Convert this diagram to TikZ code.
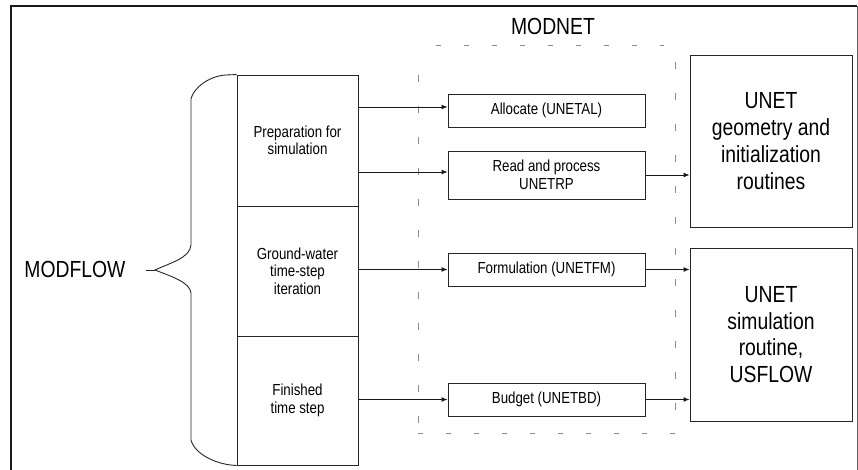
\documentclass[tikz,border=0pt]{standalone}
\usepackage{fontspec}
\setmainfont{Liberation Sans}[FakeStretch=0.83]
\usetikzlibrary{arrows.meta}
\tikzset{
  box/.style={draw=black!85, line width=0.9pt, inner sep=0pt, align=center},
  small/.style={font=\fontsize{16}{17.5}\selectfont},
  big/.style={font=\fontsize{23.3}{26.8}\selectfont},
  arr/.style={-{Latex[length=6pt,width=5pt]}, line width=0.9pt, draw=black!90},
  dotln/.style={draw=black!45, line width=0.7pt, dash pattern=on 7pt off 24pt},
  dotlh/.style={draw=black!45, line width=0.7pt, dash pattern=on 5pt off 23pt}
}
\begin{document}
\begin{tikzpicture}[x=1pt,y=-1pt]
\useasboundingbox (0,0) rectangle (858,470);
% frame
\draw[line width=2pt, black!90] (11,470) -- (11,6) -- (857,6);
\draw[line width=0.8pt, black!60] (857,6) -- (857,470);

% MODNET dotted region
\node[big] (modnet) at (553,26) {MODNET};
\draw[dotlh] (436,45) -- (664,45);
\draw[dotlh] (418,433) -- (676,433);
\draw[dotln] (418,75) -- (418,433);
\draw[dotln] (675,62) -- (675,433);

% MODFLOW column
\node[box, small, minimum width=121pt, minimum height=131pt] (b1) at (297.5,140.5) {Preparation for\\simulation};
\node[box, small, minimum width=121pt, minimum height=130pt] (b2) at (297.5,271) {Ground-water\\time-step\\iteration};
\node[box, small, minimum width=121pt, minimum height=129pt] (b3) at (297.5,400.5) {Finished\\time step};

% brace
\coordinate (tip) at (155,270);
\draw[line width=0.9pt, black!85] (b1.north west) -- (226,75) .. controls (208,76) and (193,89) .. (191,99) -- (191,245)
  .. controls (190,258) and (170,263) .. (tip) .. controls (170,276) and (190,282) .. (191,293) -- (191,440)
  .. controls (195,455) and (218,465) .. (b3.south west);
\node[big, anchor=east] (modflow) at (129,269) {MODFLOW};
\coordinate (mfend) at (146,270);
\draw[line width=0.9pt, black!85] (mfend) -- (tip);

% MODNET boxes
\node[box, small, minimum width=197pt, minimum height=33pt] (alloc) at (546.5,110.5) {Allocate (UNETAL)};
\node[box, small, minimum width=197pt, minimum height=48pt] (read) at (546.5,175) {Read and process\\UNETRP};
\node[box, small, minimum width=197pt, minimum height=33pt] (form) at (546.5,269.5) {Formulation (UNETFM)};
\node[box, small, minimum width=197pt, minimum height=33pt] (budg) at (546.5,399.5) {Budget (UNETBD)};

% UNET boxes
\node[box, big, minimum width=162pt, minimum height=172pt] (geom) at (771,141) {UNET\\geometry and\\initialization\\routines};
\node[box, big, minimum width=162pt, minimum height=173pt] (sim) at (771,334.5) {UNET\\simulation\\routine,\\USFLOW};

% arrows
\draw[arr] (b1.east |- 0,107) -- (alloc.west |- 0,107);
\draw[arr] (b1.east |- 0,172) -- (read.west |- 0,172);
\draw[arr] (read.east) -- (geom.west |- read.east);
\draw[arr] (b2.east |- form.west) -- (form.west);
\draw[arr] (form.east) -- (sim.west |- form.east);
\draw[arr] (b3.east |- budg.west) -- (budg.west);
\draw[arr] (budg.east) -- (sim.west |- budg.east);
\end{tikzpicture}
\end{document}
